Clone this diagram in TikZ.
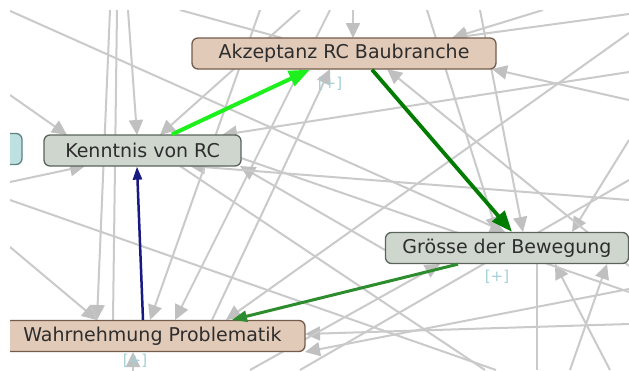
\documentclass[tikz,border=0pt]{standalone}
\usepackage{fontspec}
\setmainfont{DejaVu Sans}
\usetikzlibrary{arrows.meta}
\definecolor{cTan}{RGB}{226,202,184}
\definecolor{cTanLine}{RGB}{115,92,75}
\definecolor{cSage}{RGB}{206,214,206}
\definecolor{cSageLine}{RGB}{90,100,92}
\definecolor{cTeal}{RGB}{190,224,224}
\definecolor{cTealLine}{RGB}{95,130,130}
\definecolor{cEdge}{RGB}{202,202,202}
\definecolor{cTip}{RGB}{192,192,192}
\definecolor{cLime}{RGB}{30,240,30}
\definecolor{cForest}{RGB}{0,125,0}
\definecolor{cMoss}{RGB}{45,140,45}
\definecolor{cNavy}{RGB}{25,25,130}
\definecolor{cPlus}{RGB}{165,208,214}
\definecolor{cText}{RGB}{45,45,45}
\tikzset{
    concept/.style ={rectangle, rounded corners=6pt, minimum height=31pt, inner sep=0pt, line width=1.3pt, text=cText, font=\fontsize{19}{21}\selectfont},
    tannode/.style ={concept, draw=cTanLine, fill=cTan},
    sagenode/.style={concept, draw=cSageLine, fill=cSage},
    tealnode/.style={concept, draw=cTealLine, fill=cTeal},
    grayedge/.style={draw=cEdge, line width=2pt},
    grayarrow/.style={grayedge, -{Triangle[length=15pt, width=14pt, color=cTip]}},
    plus/.style    ={text=cPlus, font=\fontsize{15}{15}\selectfont},
}

\begin{document}
\begin{tikzpicture}[x=1pt, y=-1pt]
        \useasboundingbox (0,0) rectangle (629,370);
        \fill[white] (0,0) rectangle (629,370);
        \clip (10,10) rectangle (629,370);
        % loose ends at the border
        \foreach \n/\x/\y in {t1/8/10, t2/110/10, t3/117/10, t4/128/10, t5/180/10, t6/353/10, t7/543/10, t8/629/14,
                              t9/427/10, t10/480/10, t11/330/10, t12/300/10, t13/260/10,
                              r1/629/100, r2/629/140, r3/629/33, r4/629/266, r5/629/324, r6/629/289, r7/629/200,
                              r8/629/180, r9/629/72, r10/629/292,
                              l1/10/95, l2/10/182, l3/10/200, l4/10/247,
                              b2/496/370, b3/485/370, b4/537/370, b5/610/370, b6/570/370, b7/250/370, b8/300/370, b10/133/380} {
            \coordinate (\n) at (\x,\y);
        }
        % ends on the node borders
        \foreach \n/\x/\y in {g1/505/232, g2/497/232, g3/523/232, g4/572/232, g5/555/264, g6/607/264, g7/440/264, g8/537/264, g9/385/250,
                              a1/353/38, a2/452/38, a3/282/38, a4/492/69, a5/387/69, a6/330/69,
                              k1/137/135, k2/160/135, k3/222/135, k4/85/166, k5/190/166, k6/240/166, k7/67/135, k8/241/158, k9/180/166,
                              w1/97/320, w2/113/320, w3/175/320, w5/226/320, w6/150/320, w7/212/320, w8/305/334, w9/305/352, w10/133/352} {
            \coordinate (\n) at (\x,\y);
        }
        % background web
        \foreach \a/\b in {t1/g1, t2/w1, l4/w1, t4/k1, r1/a4, t6/a1, t7/a2, t8/a2, t9/g2, t10/g3, r2/g4, r3/w5, t12/k2,
                           t11/w3, w7/a6, r4/a5, r5/w8, r6/w9, b5/g5, b6/g6, b7/g7, l2/k4, l1/k7, g9/k6, r7/k5, r9/k3,
                           t13/w6, b10/w10} {
            \draw[grayarrow] (\a) -- (\b);
        }
        \foreach \a/\b in {t3/w2, t5/a3, l3/b2, k8/r10, k9/b3, r8/b8, g8/b4} {
            \draw[grayedge] (\a) -- (\b);
        }
        % concepts
        \node[tealnode, minimum width=124pt] (side) at (-40,149) {};
        \node[tannode, minimum width=304pt] (akz) at (344,53.5) {Akzeptanz RC Baubranche};
        \node[sagenode, minimum width=197pt] (kenn) at (142.5,150.5) {Kenntnis von RC};
        \node[sagenode, minimum width=243pt] (groesse) at (507,248) {Grösse der Bewegung};
        \node[tannode, minimum width=305pt] (wahr) at (152.5,336) {Wahrnehmung Problematik};
        \node[plus] (plusakz) at (330,84) {[+]};
        \node[plus] (plusgr) at (497,277) {[+]};
        \node[plus] (pluswahr) at (135,361) {[+]};
        % highlighted links
        \draw[cLime, line width=4pt, -{Triangle[length=21pt, width=16pt]}] ([xshift=29.5pt]kenn.north) -- ([xshift=-34pt]akz.south);
        \draw[cForest, line width=3.8pt, -{Triangle[length=21pt, width=16pt]}] ([xshift=28pt]akz.south) -- ([xshift=5pt]groesse.north);
        \draw[cMoss, line width=3pt, -{Triangle[length=15pt, width=11pt]}] ([xshift=-49pt]groesse.south) -- ([xshift=79.5pt]wahr.north);
        \draw[cNavy, line width=2.5pt, -{Triangle[length=13pt, width=9pt]}] ([xshift=-9.5pt]wahr.north) -- ([xshift=-5.5pt]kenn.south);
    \end{tikzpicture}
\end{document}
